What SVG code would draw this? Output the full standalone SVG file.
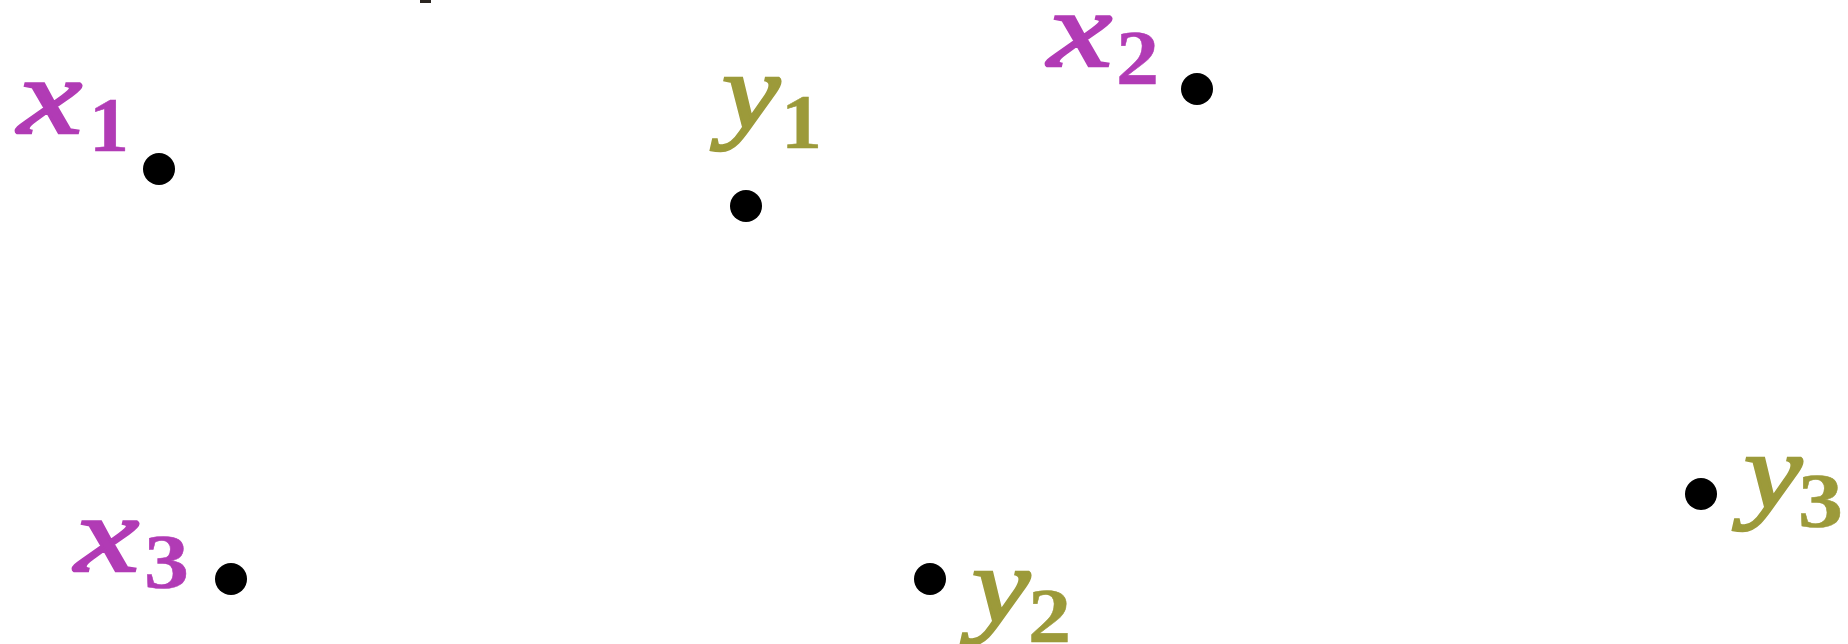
<svg xmlns="http://www.w3.org/2000/svg" width="1848" height="644" viewBox="0 0 1848 644">
<style>
.lb{font-family:"Liberation Serif","Times New Roman",serif;}
.m{font-size:108px;font-style:italic;stroke-width:2.5px;}
.s{font-size:78px;font-weight:bold;}
.x{fill:#B13BB5;stroke:#B13BB5;}
.y{fill:#9C9A3A;stroke:#9C9A3A;}
.s.x,.s.y{stroke-width:0.5px;}
.dot{fill:#000;}
</style>
<rect width="1848" height="644" fill="#fff"/>
<rect x="420" y="0" width="11" height="3" fill="#2a2520"/>
<g id="x1">
<circle class="dot" cx="159" cy="169" r="16"/>
<text class="lb m x" x="18" y="133" textLength="64" lengthAdjust="spacingAndGlyphs">x</text>
<text class="lb s x" x="89" y="151" textLength="40" lengthAdjust="spacingAndGlyphs">1</text>
</g>
<g id="y1">
<circle class="dot" cx="746" cy="206" r="16"/>
<text class="lb m y" x="722" y="128" textLength="58" lengthAdjust="spacingAndGlyphs">y</text>
<text class="lb s y" x="781" y="148" textLength="41" lengthAdjust="spacingAndGlyphs">1</text>
</g>
<g id="x2">
<circle class="dot" cx="1197" cy="89" r="16"/>
<text class="lb m x" x="1048" y="66" textLength="64" lengthAdjust="spacingAndGlyphs">x</text>
<text class="lb s x" x="1116" y="84" textLength="43" lengthAdjust="spacingAndGlyphs">2</text>
</g>
<g id="x3">
<circle class="dot" cx="231" cy="579" r="16"/>
<text class="lb m x" x="75" y="571" textLength="64" lengthAdjust="spacingAndGlyphs">x</text>
<text class="lb s x" x="144" y="588" textLength="45" lengthAdjust="spacingAndGlyphs">3</text>
</g>
<g id="y2">
<circle class="dot" cx="930" cy="579" r="16"/>
<text class="lb m y" x="972" y="622" textLength="58" lengthAdjust="spacingAndGlyphs">y</text>
<text class="lb s y" x="1028" y="642" textLength="43" lengthAdjust="spacingAndGlyphs">2</text>
</g>
<g id="y3">
<circle class="dot" cx="1701" cy="494" r="16"/>
<text class="lb m y" x="1744" y="508" textLength="58" lengthAdjust="spacingAndGlyphs">y</text>
<text class="lb s y" x="1798" y="527" textLength="45" lengthAdjust="spacingAndGlyphs">3</text>
</g>
<g id="connectors"/>
</svg>
